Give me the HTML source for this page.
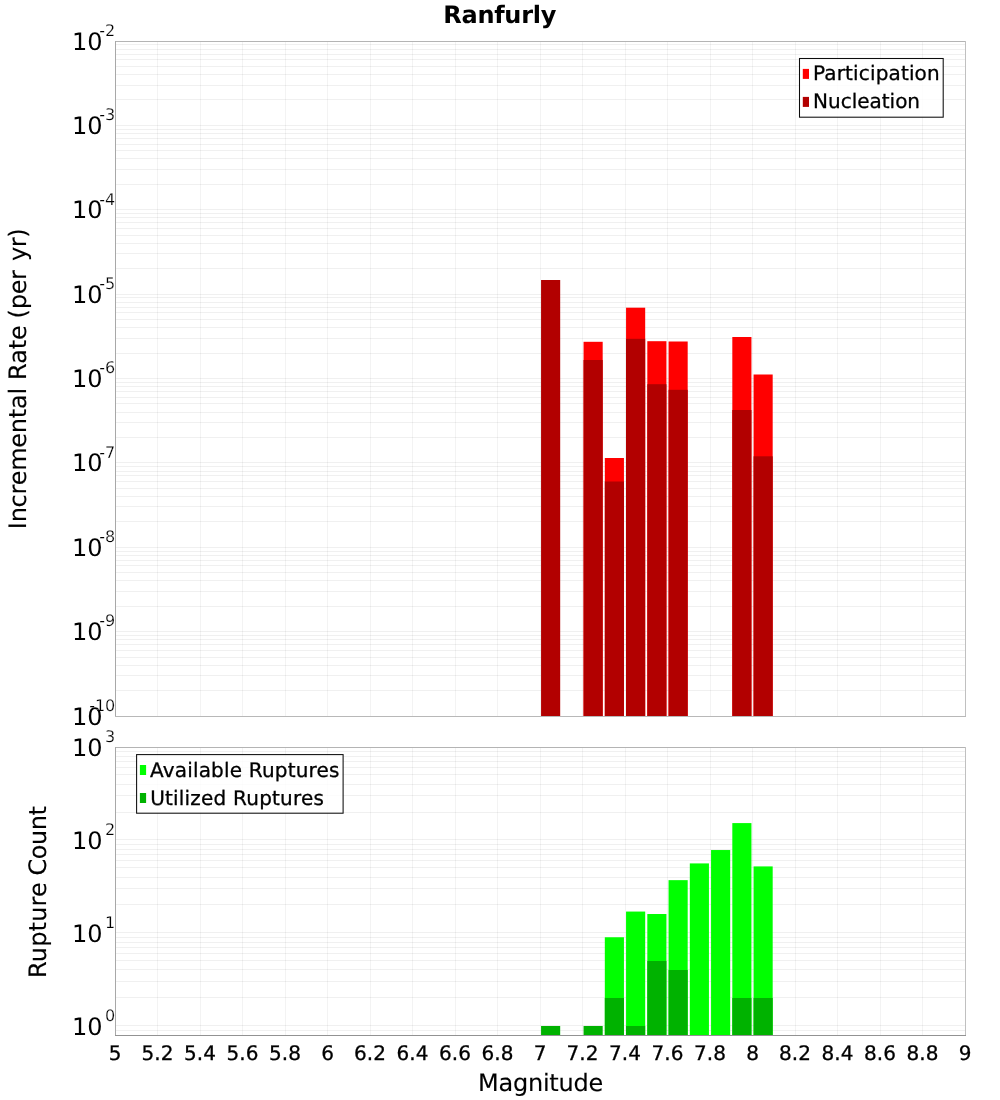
<!DOCTYPE html>
<html><head><meta charset="utf-8"><title>Ranfurly</title>
<style>
html,body{margin:0;padding:0;background:#fff;}
body{width:1000px;height:1100px;overflow:hidden;}
svg{display:block;text-rendering:geometricPrecision;}
.s20{stroke:#000;stroke-width:.3px;}
.s16{stroke:#fff;stroke-width:.22px;}
.s24{stroke:#000;stroke-width:.12px;}
text{font-family:"DejaVu Sans","Liberation Sans",sans-serif;fill:#000;}
.g{shape-rendering:crispEdges;}
</style></head><body>
<svg width="1000" height="1100" viewBox="0 0 1000 1100">
<rect x="0" y="0" width="1000" height="1100" fill="#ffffff"/>
<g class="g">
<rect x="115" y="99" width="851" height="1" fill="#000" fill-opacity=".06"/>
<rect x="115" y="85" width="851" height="1" fill="#000" fill-opacity=".06"/>
<rect x="115" y="74" width="851" height="1" fill="#000" fill-opacity=".06"/>
<rect x="115" y="66" width="851" height="1" fill="#000" fill-opacity=".06"/>
<rect x="115" y="59" width="851" height="1" fill="#000" fill-opacity=".06"/>
<rect x="115" y="54" width="851" height="1" fill="#000" fill-opacity=".06"/>
<rect x="115" y="49" width="851" height="1" fill="#000" fill-opacity=".06"/>
<rect x="115" y="44" width="851" height="1" fill="#000" fill-opacity=".06"/>
<rect x="115" y="125" width="851" height="1" fill="#000" fill-opacity=".06"/>
<rect x="115" y="184" width="851" height="1" fill="#000" fill-opacity=".06"/>
<rect x="115" y="169" width="851" height="1" fill="#000" fill-opacity=".06"/>
<rect x="115" y="158" width="851" height="1" fill="#000" fill-opacity=".06"/>
<rect x="115" y="150" width="851" height="1" fill="#000" fill-opacity=".06"/>
<rect x="115" y="144" width="851" height="1" fill="#000" fill-opacity=".06"/>
<rect x="115" y="138" width="851" height="1" fill="#000" fill-opacity=".06"/>
<rect x="115" y="133" width="851" height="1" fill="#000" fill-opacity=".06"/>
<rect x="115" y="129" width="851" height="1" fill="#000" fill-opacity=".06"/>
<rect x="115" y="209" width="851" height="1" fill="#000" fill-opacity=".06"/>
<rect x="115" y="268" width="851" height="1" fill="#000" fill-opacity=".06"/>
<rect x="115" y="253" width="851" height="1" fill="#000" fill-opacity=".06"/>
<rect x="115" y="243" width="851" height="1" fill="#000" fill-opacity=".06"/>
<rect x="115" y="235" width="851" height="1" fill="#000" fill-opacity=".06"/>
<rect x="115" y="228" width="851" height="1" fill="#000" fill-opacity=".06"/>
<rect x="115" y="222" width="851" height="1" fill="#000" fill-opacity=".06"/>
<rect x="115" y="217" width="851" height="1" fill="#000" fill-opacity=".06"/>
<rect x="115" y="213" width="851" height="1" fill="#000" fill-opacity=".06"/>
<rect x="115" y="294" width="851" height="1" fill="#000" fill-opacity=".06"/>
<rect x="115" y="353" width="851" height="1" fill="#000" fill-opacity=".06"/>
<rect x="115" y="338" width="851" height="1" fill="#000" fill-opacity=".06"/>
<rect x="115" y="327" width="851" height="1" fill="#000" fill-opacity=".06"/>
<rect x="115" y="319" width="851" height="1" fill="#000" fill-opacity=".06"/>
<rect x="115" y="312" width="851" height="1" fill="#000" fill-opacity=".06"/>
<rect x="115" y="307" width="851" height="1" fill="#000" fill-opacity=".06"/>
<rect x="115" y="302" width="851" height="1" fill="#000" fill-opacity=".06"/>
<rect x="115" y="297" width="851" height="1" fill="#000" fill-opacity=".06"/>
<rect x="115" y="378" width="851" height="1" fill="#000" fill-opacity=".06"/>
<rect x="115" y="437" width="851" height="1" fill="#000" fill-opacity=".06"/>
<rect x="115" y="422" width="851" height="1" fill="#000" fill-opacity=".06"/>
<rect x="115" y="412" width="851" height="1" fill="#000" fill-opacity=".06"/>
<rect x="115" y="403" width="851" height="1" fill="#000" fill-opacity=".06"/>
<rect x="115" y="397" width="851" height="1" fill="#000" fill-opacity=".06"/>
<rect x="115" y="391" width="851" height="1" fill="#000" fill-opacity=".06"/>
<rect x="115" y="386" width="851" height="1" fill="#000" fill-opacity=".06"/>
<rect x="115" y="382" width="851" height="1" fill="#000" fill-opacity=".06"/>
<rect x="115" y="462" width="851" height="1" fill="#000" fill-opacity=".06"/>
<rect x="115" y="521" width="851" height="1" fill="#000" fill-opacity=".06"/>
<rect x="115" y="506" width="851" height="1" fill="#000" fill-opacity=".06"/>
<rect x="115" y="496" width="851" height="1" fill="#000" fill-opacity=".06"/>
<rect x="115" y="488" width="851" height="1" fill="#000" fill-opacity=".06"/>
<rect x="115" y="481" width="851" height="1" fill="#000" fill-opacity=".06"/>
<rect x="115" y="475" width="851" height="1" fill="#000" fill-opacity=".06"/>
<rect x="115" y="471" width="851" height="1" fill="#000" fill-opacity=".06"/>
<rect x="115" y="466" width="851" height="1" fill="#000" fill-opacity=".06"/>
<rect x="115" y="547" width="851" height="1" fill="#000" fill-opacity=".06"/>
<rect x="115" y="606" width="851" height="1" fill="#000" fill-opacity=".06"/>
<rect x="115" y="591" width="851" height="1" fill="#000" fill-opacity=".06"/>
<rect x="115" y="580" width="851" height="1" fill="#000" fill-opacity=".06"/>
<rect x="115" y="572" width="851" height="1" fill="#000" fill-opacity=".06"/>
<rect x="115" y="565" width="851" height="1" fill="#000" fill-opacity=".06"/>
<rect x="115" y="560" width="851" height="1" fill="#000" fill-opacity=".06"/>
<rect x="115" y="555" width="851" height="1" fill="#000" fill-opacity=".06"/>
<rect x="115" y="551" width="851" height="1" fill="#000" fill-opacity=".06"/>
<rect x="115" y="631" width="851" height="1" fill="#000" fill-opacity=".06"/>
<rect x="115" y="690" width="851" height="1" fill="#000" fill-opacity=".06"/>
<rect x="115" y="675" width="851" height="1" fill="#000" fill-opacity=".06"/>
<rect x="115" y="665" width="851" height="1" fill="#000" fill-opacity=".06"/>
<rect x="115" y="657" width="851" height="1" fill="#000" fill-opacity=".06"/>
<rect x="115" y="650" width="851" height="1" fill="#000" fill-opacity=".06"/>
<rect x="115" y="644" width="851" height="1" fill="#000" fill-opacity=".06"/>
<rect x="115" y="639" width="851" height="1" fill="#000" fill-opacity=".06"/>
<rect x="115" y="635" width="851" height="1" fill="#000" fill-opacity=".06"/>
<rect x="157" y="41" width="1" height="676" fill="#000" fill-opacity=".047"/>
<rect x="157" y="747" width="1" height="289" fill="#000" fill-opacity=".047"/>
<rect x="200" y="41" width="1" height="676" fill="#000" fill-opacity=".047"/>
<rect x="200" y="747" width="1" height="289" fill="#000" fill-opacity=".047"/>
<rect x="242" y="41" width="1" height="676" fill="#000" fill-opacity=".047"/>
<rect x="242" y="747" width="1" height="289" fill="#000" fill-opacity=".047"/>
<rect x="285" y="41" width="1" height="676" fill="#000" fill-opacity=".047"/>
<rect x="285" y="747" width="1" height="289" fill="#000" fill-opacity=".047"/>
<rect x="327" y="41" width="1" height="676" fill="#000" fill-opacity=".047"/>
<rect x="327" y="747" width="1" height="289" fill="#000" fill-opacity=".047"/>
<rect x="370" y="41" width="1" height="676" fill="#000" fill-opacity=".047"/>
<rect x="370" y="747" width="1" height="289" fill="#000" fill-opacity=".047"/>
<rect x="412" y="41" width="1" height="676" fill="#000" fill-opacity=".047"/>
<rect x="412" y="747" width="1" height="289" fill="#000" fill-opacity=".047"/>
<rect x="455" y="41" width="1" height="676" fill="#000" fill-opacity=".047"/>
<rect x="455" y="747" width="1" height="289" fill="#000" fill-opacity=".047"/>
<rect x="497" y="41" width="1" height="676" fill="#000" fill-opacity=".047"/>
<rect x="497" y="747" width="1" height="289" fill="#000" fill-opacity=".047"/>
<rect x="540" y="41" width="1" height="676" fill="#000" fill-opacity=".047"/>
<rect x="540" y="747" width="1" height="289" fill="#000" fill-opacity=".047"/>
<rect x="582" y="41" width="1" height="676" fill="#000" fill-opacity=".047"/>
<rect x="582" y="747" width="1" height="289" fill="#000" fill-opacity=".047"/>
<rect x="625" y="41" width="1" height="676" fill="#000" fill-opacity=".047"/>
<rect x="625" y="747" width="1" height="289" fill="#000" fill-opacity=".047"/>
<rect x="667" y="41" width="1" height="676" fill="#000" fill-opacity=".047"/>
<rect x="667" y="747" width="1" height="289" fill="#000" fill-opacity=".047"/>
<rect x="710" y="41" width="1" height="676" fill="#000" fill-opacity=".047"/>
<rect x="710" y="747" width="1" height="289" fill="#000" fill-opacity=".047"/>
<rect x="752" y="41" width="1" height="676" fill="#000" fill-opacity=".047"/>
<rect x="752" y="747" width="1" height="289" fill="#000" fill-opacity=".047"/>
<rect x="795" y="41" width="1" height="676" fill="#000" fill-opacity=".047"/>
<rect x="795" y="747" width="1" height="289" fill="#000" fill-opacity=".047"/>
<rect x="837" y="41" width="1" height="676" fill="#000" fill-opacity=".047"/>
<rect x="837" y="747" width="1" height="289" fill="#000" fill-opacity=".047"/>
<rect x="880" y="41" width="1" height="676" fill="#000" fill-opacity=".047"/>
<rect x="880" y="747" width="1" height="289" fill="#000" fill-opacity=".047"/>
<rect x="922" y="41" width="1" height="676" fill="#000" fill-opacity=".047"/>
<rect x="922" y="747" width="1" height="289" fill="#000" fill-opacity=".047"/>
<rect x="115" y="1030" width="851" height="1" fill="#000" fill-opacity=".06"/>
<rect x="115" y="1025" width="851" height="1" fill="#000" fill-opacity=".06"/>
<rect x="115" y="997" width="851" height="1" fill="#000" fill-opacity=".06"/>
<rect x="115" y="981" width="851" height="1" fill="#000" fill-opacity=".06"/>
<rect x="115" y="969" width="851" height="1" fill="#000" fill-opacity=".06"/>
<rect x="115" y="960" width="851" height="1" fill="#000" fill-opacity=".06"/>
<rect x="115" y="953" width="851" height="1" fill="#000" fill-opacity=".06"/>
<rect x="115" y="947" width="851" height="1" fill="#000" fill-opacity=".06"/>
<rect x="115" y="942" width="851" height="1" fill="#000" fill-opacity=".06"/>
<rect x="115" y="937" width="851" height="1" fill="#000" fill-opacity=".06"/>
<rect x="115" y="932" width="851" height="1" fill="#000" fill-opacity=".06"/>
<rect x="115" y="904" width="851" height="1" fill="#000" fill-opacity=".06"/>
<rect x="115" y="888" width="851" height="1" fill="#000" fill-opacity=".06"/>
<rect x="115" y="877" width="851" height="1" fill="#000" fill-opacity=".06"/>
<rect x="115" y="867" width="851" height="1" fill="#000" fill-opacity=".06"/>
<rect x="115" y="860" width="851" height="1" fill="#000" fill-opacity=".06"/>
<rect x="115" y="854" width="851" height="1" fill="#000" fill-opacity=".06"/>
<rect x="115" y="849" width="851" height="1" fill="#000" fill-opacity=".06"/>
<rect x="115" y="844" width="851" height="1" fill="#000" fill-opacity=".06"/>
<rect x="115" y="839" width="851" height="1" fill="#000" fill-opacity=".06"/>
<rect x="115" y="812" width="851" height="1" fill="#000" fill-opacity=".06"/>
<rect x="115" y="795" width="851" height="1" fill="#000" fill-opacity=".06"/>
<rect x="115" y="784" width="851" height="1" fill="#000" fill-opacity=".06"/>
<rect x="115" y="774" width="851" height="1" fill="#000" fill-opacity=".06"/>
<rect x="115" y="767" width="851" height="1" fill="#000" fill-opacity=".06"/>
<rect x="115" y="761" width="851" height="1" fill="#000" fill-opacity=".06"/>
<rect x="115" y="756" width="851" height="1" fill="#000" fill-opacity=".06"/>
<rect x="115" y="751" width="851" height="1" fill="#000" fill-opacity=".06"/>
</g>
<rect x="541.062" y="280.00" width="19.125" height="436.00" fill="#b20000"/>
<rect x="583.562" y="341.80" width="19.125" height="374.20" fill="#ff0000"/>
<rect x="583.562" y="360.00" width="19.125" height="356.00" fill="#b20000"/>
<rect x="604.812" y="458.00" width="19.125" height="258.00" fill="#ff0000"/>
<rect x="604.812" y="481.50" width="19.125" height="234.50" fill="#b20000"/>
<rect x="626.062" y="307.70" width="19.125" height="408.30" fill="#ff0000"/>
<rect x="626.062" y="338.80" width="19.125" height="377.20" fill="#b20000"/>
<rect x="647.312" y="341.20" width="19.125" height="374.80" fill="#ff0000"/>
<rect x="647.312" y="384.20" width="19.125" height="331.80" fill="#b20000"/>
<rect x="668.563" y="341.50" width="19.125" height="374.50" fill="#ff0000"/>
<rect x="668.563" y="389.80" width="19.125" height="326.20" fill="#b20000"/>
<rect x="732.313" y="337.00" width="19.125" height="379.00" fill="#ff0000"/>
<rect x="732.313" y="410.00" width="19.125" height="306.00" fill="#b20000"/>
<rect x="753.563" y="374.50" width="19.125" height="341.50" fill="#ff0000"/>
<rect x="753.563" y="456.30" width="19.125" height="259.70" fill="#b20000"/>
<rect x="541.062" y="1025.99" width="19.125" height="9.01" fill="#00b200"/>
<rect x="583.562" y="1025.99" width="19.125" height="9.01" fill="#00b200"/>
<rect x="604.812" y="937.25" width="19.125" height="97.75" fill="#00ff00"/>
<rect x="604.812" y="997.99" width="19.125" height="37.01" fill="#00b200"/>
<rect x="626.062" y="911.56" width="19.125" height="123.44" fill="#00ff00"/>
<rect x="626.062" y="1025.99" width="19.125" height="9.01" fill="#00b200"/>
<rect x="647.312" y="914.01" width="19.125" height="120.99" fill="#00ff00"/>
<rect x="647.312" y="960.99" width="19.125" height="74.01" fill="#00b200"/>
<rect x="668.563" y="880.15" width="19.125" height="154.85" fill="#00ff00"/>
<rect x="668.563" y="970.00" width="19.125" height="65.00" fill="#00b200"/>
<rect x="689.812" y="863.41" width="19.125" height="171.59" fill="#00ff00"/>
<rect x="711.062" y="850.03" width="19.125" height="184.97" fill="#00ff00"/>
<rect x="732.313" y="823.09" width="19.125" height="211.91" fill="#00ff00"/>
<rect x="732.313" y="997.99" width="19.125" height="37.01" fill="#00b200"/>
<rect x="753.563" y="866.41" width="19.125" height="168.59" fill="#00ff00"/>
<rect x="753.563" y="997.99" width="19.125" height="37.01" fill="#00b200"/>
<g class="g">
<rect x="115" y="41" width="851" height="1" fill="#b4b4b4"/>
<rect x="115" y="41" width="1" height="676" fill="#a8a8a8"/>
<rect x="965" y="41" width="1" height="676" fill="#c0c0c0"/>
<rect x="115" y="716" width="851" height="1" fill="#b8b8b8"/>
<rect x="115" y="747" width="851" height="1" fill="#b4b4b4"/>
<rect x="115" y="747" width="1" height="289" fill="#a8a8a8"/>
<rect x="965" y="747" width="1" height="289" fill="#c0c0c0"/>
<rect x="115" y="1035" width="851" height="1" fill="#929292"/>
</g>
<text x="443.3" y="23" font-size="24" font-weight="bold" textLength="113">Ranfurly</text>
<g font-size="20" text-anchor="middle" class="s20">
<text x="115" y="1060">5</text>
<text x="157.5" y="1060">5.2</text>
<text x="200" y="1060">5.4</text>
<text x="242.5" y="1060">5.6</text>
<text x="285" y="1060">5.8</text>
<text x="327.5" y="1060">6</text>
<text x="370" y="1060">6.2</text>
<text x="412.5" y="1060">6.4</text>
<text x="455" y="1060">6.6</text>
<text x="497.5" y="1060">6.8</text>
<text x="540" y="1060">7</text>
<text x="582.5" y="1060">7.2</text>
<text x="625" y="1060">7.4</text>
<text x="667.5" y="1060">7.6</text>
<text x="710" y="1060">7.8</text>
<text x="752.5" y="1060">8</text>
<text x="795" y="1060">8.2</text>
<text x="837.5" y="1060">8.4</text>
<text x="880" y="1060">8.6</text>
<text x="922.5" y="1060">8.8</text>
<text x="965" y="1060">9</text>
</g>
<text x="477.9" y="1090.7" font-size="24" class="s24" textLength="125.4">Magnitude</text>
<text transform="translate(26.2,529.2) rotate(-90)" font-size="24" class="s24"><tspan x="0" textLength="141.3">Incremental</tspan> <tspan x="149.3" textLength="54.7">Rate</tspan> <tspan x="210.8" textLength="48.4">(per</tspan> <tspan x="268.2" textLength="32.7">yr)</tspan></text>
<text transform="translate(46,978) rotate(-90)" font-size="24" class="s24"><tspan x="0" textLength="95.8">Rupture</tspan> <tspan x="102.55" textLength="69.5">Count</tspan></text>
<text x="72" y="49.60" font-size="24">10</text>
<text x="115.3" y="35.80" font-size="16" class="s16" text-anchor="end">-2</text>
<text x="72" y="133.97" font-size="24">10</text>
<text x="115.3" y="120.17" font-size="16" class="s16" text-anchor="end">-3</text>
<text x="72" y="218.35" font-size="24">10</text>
<text x="115.3" y="204.55" font-size="16" class="s16" text-anchor="end">-4</text>
<text x="72" y="302.73" font-size="24">10</text>
<text x="115.3" y="288.93" font-size="16" class="s16" text-anchor="end">-5</text>
<text x="72" y="387.10" font-size="24">10</text>
<text x="115.3" y="373.30" font-size="16" class="s16" text-anchor="end">-6</text>
<text x="72" y="471.48" font-size="24">10</text>
<text x="115.3" y="457.68" font-size="16" class="s16" text-anchor="end">-7</text>
<text x="72" y="555.85" font-size="24">10</text>
<text x="115.3" y="542.05" font-size="16" class="s16" text-anchor="end">-8</text>
<text x="72" y="640.23" font-size="24">10</text>
<text x="115.3" y="626.42" font-size="16" class="s16" text-anchor="end">-9</text>
<text x="72" y="724.60" font-size="24">10</text>
<text x="115.3" y="710.80" font-size="16" class="s16" text-anchor="end">-10</text>
<text x="72" y="1034.59" font-size="24">10</text>
<text x="115.3" y="1020.79" font-size="16" class="s16" text-anchor="end">0</text>
<text x="72" y="941.59" font-size="24">10</text>
<text x="115.3" y="927.79" font-size="16" class="s16" text-anchor="end">1</text>
<text x="72" y="848.60" font-size="24">10</text>
<text x="115.3" y="834.80" font-size="16" class="s16" text-anchor="end">2</text>
<text x="72" y="755.60" font-size="24">10</text>
<text x="115.3" y="741.80" font-size="16" class="s16" text-anchor="end">3</text>
<rect x="799.5" y="58.5" width="143.7" height="58.7" fill="#fff" fill-opacity="0.8" stroke="#0c0c0c" stroke-width="1.05"/>
<rect x="802.8" y="68.9" width="6.2" height="10" fill="#ff0000"/>
<text x="813" y="80" font-size="20" class="s20" textLength="126.7">Participation</text>
<rect x="802.8" y="96.9" width="6.2" height="10" fill="#b20000"/>
<text x="813" y="108" font-size="20" class="s20" textLength="107.06">Nucleation</text>
<rect x="136.6" y="754.6" width="206.5" height="58.6" fill="#fff" fill-opacity="0.8" stroke="#0c0c0c" stroke-width="1.05"/>
<rect x="139.9" y="765" width="6.2" height="10" fill="#00ff00"/>
<text x="150" y="777" font-size="20" class="s20" textLength="189.4">Available Ruptures</text>
<rect x="139.9" y="793" width="6.2" height="10" fill="#00b200"/>
<text x="150.2" y="805" font-size="20" class="s20" textLength="173.7">Utilized Ruptures</text>
</svg></body></html>
